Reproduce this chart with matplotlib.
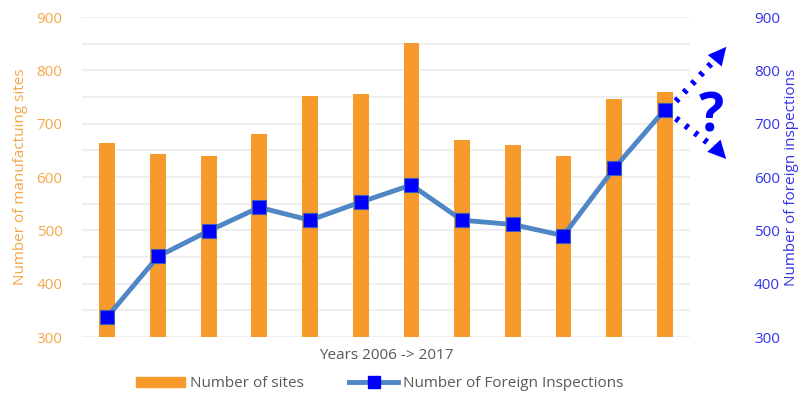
import matplotlib.pyplot as plt
from matplotlib.lines import Line2D
from matplotlib.patches import Patch

# data (2006 -> 2017)
years = list(range(2006, 2018))
sites = [663, 643, 639, 681, 752, 756, 852, 669, 660, 639, 746, 759]
inspections = [338, 451, 499, 543, 519, 553, 585, 519, 511, 490, 616, 726]

orange = '#F79A2C'
orange_txt = '#F5A748'
line_blue = '#4F86C6'
blue = '#0000FF'
blue_txt = '#3434E8'

plt.rcParams['font.family'] = ['Open Sans', 'DejaVu Sans']

fig = plt.figure(figsize=(8.08, 4.01), dpi=100)
ax = fig.add_axes([0.1015, 0.1596, 0.7525, 0.798])
ax2 = ax.twinx()

x = list(range(len(years)))
ax.bar(x, sites, width=0.31, color=orange, zorder=2)
ax.set_xlim(-0.5, len(years) - 0.5)
ax.set_ylim(300, 900)
ax.set_yticks(range(300, 901, 100))
ax.set_yticks(range(350, 900, 100), minor=True)
ax.grid(axis='y', which='both', color='#ececec', lw=1.2, zorder=0)
ax.set_axisbelow(True)
ax.set_xticks([])
ax.tick_params(axis='y', which='both', length=0, labelsize=11, labelcolor=orange_txt, pad=14)
ax.set_ylabel('Number of manufactuing sites', color=orange_txt, fontsize=11, labelpad=6)
ax.set_xlabel('Years 2006 -> 2017', color='#595959', fontsize=11, labelpad=8)

ax2.plot(x, inspections, color=line_blue, lw=3.5, marker='s', markersize=10,
         markerfacecolor=blue, markeredgecolor='#3a5fb0', markeredgewidth=0.8, zorder=3)
ax2.set_ylim(300, 900)
ax2.set_yticks(range(300, 901, 100))
ax2.tick_params(axis='y', length=0, labelsize=11, labelcolor=blue_txt, pad=46)
ax2.set_ylabel('Number of foreign inspections', color=blue_txt, fontsize=11, labelpad=3)

for a in (ax, ax2):
    for s in a.spines.values():
        s.set_visible(False)

# dotted "which way?" arrows from the last point
x0, y0 = x[-1], inspections[-1]
tx = 12.25
for ty in (848, 630):
    up = ty > y0
    sy = y0 + (16 if up else -16)
    ey = ty - (22 if up else -20)
    ax2.plot([x0 + 0.22, tx - 0.2], [sy, ey], ls=(0, (0.6, 1.3)),
             color=blue, lw=4.5, clip_on=False, dash_capstyle='butt', zorder=4)
    ax2.annotate('', xy=(tx, ty), xytext=(tx - 0.35, ty - (40 if up else -36)),
                 arrowprops=dict(arrowstyle='-|>', color=blue, lw=0.1, mutation_scale=32),
                 annotation_clip=False, zorder=4)
ax2.text(11.93, 712, '?', color=blue, fontsize=38, fontweight='bold', ha='center', va='center',
         clip_on=False)

handles = [Patch(color=orange),
           Line2D([], [], color=line_blue, lw=3.5, marker='s', markersize=8,
                  markerfacecolor=blue, markeredgecolor=blue)]
fig.legend(handles, ['Number of sites', 'Number of Foreign Inspections'], loc='lower center',
           bbox_to_anchor=(0.47, -0.01), ncol=2, frameon=False, fontsize=11,
           labelcolor='#595959', handlelength=3.2, columnspacing=3, handletextpad=0.3)

fig.savefig('out.png', dpi=100)
